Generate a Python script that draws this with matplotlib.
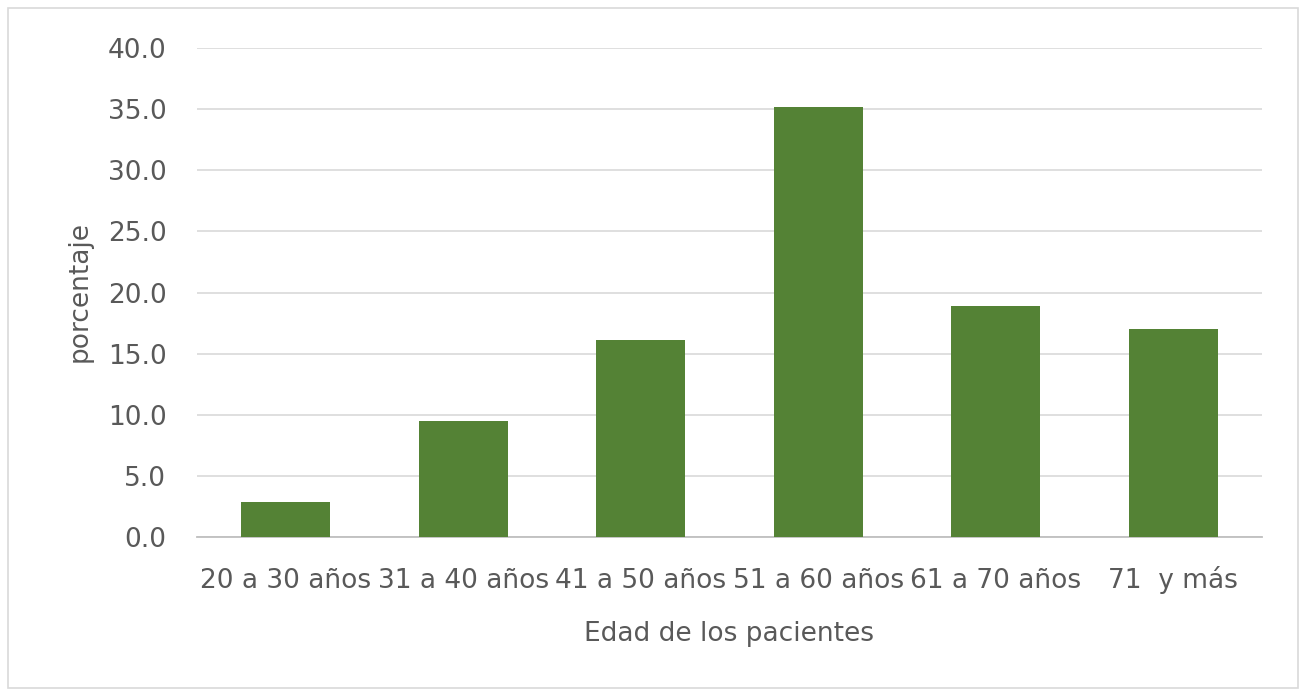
import matplotlib
matplotlib.use("Agg")
import matplotlib.pyplot as plt
from matplotlib.patches import Rectangle

categories = ["20 a 30 años", "31 a 40 años", "41 a 50 años", "51 a 60 años", "61 a 70 años", "71  y más"]
values = [2.9, 9.5, 16.1, 35.2, 18.9, 17.0]
yticks = [0, 5, 10, 15, 20, 25, 30, 35, 40]

plt.rcParams['font.family'] = ['DejaVu Sans']
txt = '#595959'
fs = 19

fig = plt.figure(figsize=(13.06, 6.96), dpi=100)
fig.patches.append(Rectangle((0.006, 0.011), 0.988, 0.978, transform=fig.transFigure,
                             fill=False, edgecolor='#d9d9d9', linewidth=1.2))
ax = fig.add_axes([0.1508, 0.2284, 0.8155, 0.7026])

x = list(range(len(categories)))
ax.bar(x, values, width=0.5, color='#548235', zorder=3)
ax.set_xlim(-0.5, len(categories) - 0.5)
ax.set_ylim(0, 40)
ax.set_yticks(yticks)
ax.set_yticklabels([f"{v:.1f}" for v in yticks])
ax.set_xticks(x)
ax.set_xticklabels(categories)
for lab in ax.get_xticklabels():
    lab.set_va('baseline')
ax.grid(axis='y', color='#d9d9d9', linewidth=1.2, zorder=0)
for s in ['top', 'right', 'left']:
    ax.spines[s].set_visible(False)
ax.spines['bottom'].set_color('#bfbfbf')
ax.spines['bottom'].set_linewidth(1.3)
ax.tick_params(axis='both', length=0, colors=txt, labelsize=fs)
ax.tick_params(axis='y', pad=22)
ax.tick_params(axis='x', pad=37)
ax.set_xlabel("Edad de los pacientes", fontsize=fs, color=txt, labelpad=20)
ax.set_ylabel("porcentaje", fontsize=fs, color=txt)
ax.yaxis.set_label_coords(-(197 - 80) / 1065, (537 - 291) / 489, transform=ax.transAxes)
ax.yaxis.label.set_va('center')
ax.xaxis.set_label_coords(0.5, -(634 - 537) / 489, transform=ax.transAxes)
ax.xaxis.label.set_va('center')

fig.savefig("out.png", dpi=100)
